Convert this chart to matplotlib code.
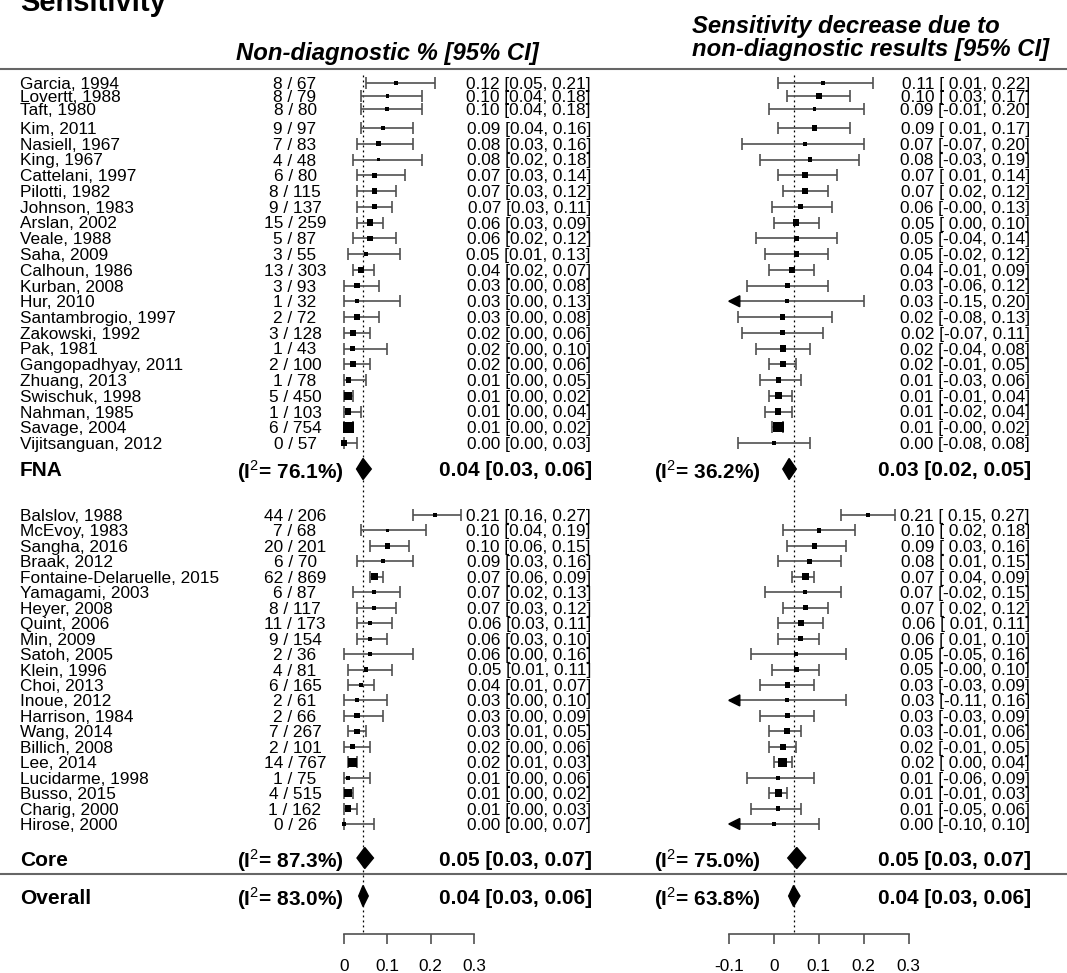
import numpy as np
import matplotlib.pyplot as plt
from matplotlib.patches import Polygon

plt.rcParams['font.family'] = ['Liberation Sans', 'DejaVu Sans']
plt.rcParams['mathtext.fontset'] = 'custom'
plt.rcParams['mathtext.rm'] = 'Liberation Sans'
plt.rcParams['axes.unicode_minus'] = False

# ---- FNA studies ----
fna_names = ['Garcia, 1994', 'Lovertt, 1988', 'Taft, 1980', 'Kim, 2011', 'Nasiell, 1967',
             'King, 1967', 'Cattelani, 1997', 'Pilotti, 1982', 'Johnson, 1983', 'Arslan, 2002',
             'Veale, 1988', 'Saha, 2009', 'Calhoun, 1986', 'Kurban, 2008', 'Hur, 2010',
             'Santambrogio, 1997', 'Zakowski, 1992', 'Pak, 1981', 'Gangopadhyay, 2011',
             'Zhuang, 2013', 'Swischuk, 1998', 'Nahman, 1985', 'Savage, 2004', 'Vijitsanguan, 2012']
fna_events = [8, 8, 8, 9, 7, 4, 6, 8, 9, 15, 5, 3, 13, 3, 1, 2, 3, 1, 2, 1, 5, 1, 6, 0]
fna_total = [67, 79, 80, 97, 83, 48, 80, 115, 137, 259, 87, 55, 303, 93, 32, 72, 128, 43,
             100, 78, 450, 103, 754, 57]
fna_nd = [0.12, 0.10, 0.10, 0.09, 0.08, 0.08, 0.07, 0.07, 0.07, 0.06, 0.06, 0.05, 0.04,
          0.03, 0.03, 0.03, 0.02, 0.02, 0.02, 0.01, 0.01, 0.01, 0.01, 0.00]
fna_nd_lo = [0.05, 0.04, 0.04, 0.04, 0.03, 0.02, 0.03, 0.03, 0.03, 0.03, 0.02, 0.01, 0.02,
             0.00, 0.00, 0.00, 0.00, 0.00, 0.00, 0.00, 0.00, 0.00, 0.00, 0.00]
fna_nd_hi = [0.21, 0.18, 0.18, 0.16, 0.16, 0.18, 0.14, 0.12, 0.11, 0.09, 0.12, 0.13, 0.07,
             0.08, 0.13, 0.08, 0.06, 0.10, 0.06, 0.05, 0.02, 0.04, 0.02, 0.03]
fna_sd = [0.11, 0.10, 0.09, 0.09, 0.07, 0.08, 0.07, 0.07, 0.06, 0.05, 0.05, 0.05, 0.04,
          0.03, 0.03, 0.02, 0.02, 0.02, 0.02, 0.01, 0.01, 0.01, 0.01, 0.00]
fna_sd_lo = [0.01, 0.03, -0.01, 0.01, -0.07, -0.03, 0.01, 0.02, -0.004, 0.00, -0.04, -0.02,
             -0.01, -0.06, -0.15, -0.08, -0.07, -0.04, -0.01, -0.03, -0.01, -0.02, -0.004, -0.08]
fna_sd_hi = [0.22, 0.17, 0.20, 0.17, 0.20, 0.19, 0.14, 0.12, 0.13, 0.10, 0.14, 0.12, 0.09,
             0.12, 0.20, 0.13, 0.11, 0.08, 0.05, 0.06, 0.04, 0.04, 0.02, 0.08]
# relative study weights
fna_wt_nd = [4, 3, 4, 3, 5, 3, 5, 5, 5, 6, 5, 4, 6, 5, 4, 5, 6, 5, 6, 5, 8, 6, 11, 6]
fna_wt_sd = [4, 6, 3, 5, 4, 4, 6, 6, 5, 6, 5, 5, 6, 5, 4, 5, 5, 6, 6, 5, 7, 6, 10, 4]

# ---- Core studies ----
core_names = ['Balslov, 1988', 'McEvoy, 1983', 'Sangha, 2016', 'Braak, 2012',
              'Fontaine-Delaruelle, 2015', 'Yamagami, 2003', 'Heyer, 2008', 'Quint, 2006',
              'Min, 2009', 'Satoh, 2005', 'Klein, 1996', 'Choi, 2013', 'Inoue, 2012',
              'Harrison, 1984', 'Wang, 2014', 'Billich, 2008', 'Lee, 2014', 'Lucidarme, 1998',
              'Busso, 2015', 'Charig, 2000', 'Hirose, 2000']
core_events = [44, 7, 20, 6, 62, 6, 8, 11, 9, 2, 4, 6, 2, 2, 7, 2, 14, 1, 4, 1, 0]
core_total = [206, 68, 201, 70, 869, 87, 117, 173, 154, 36, 81, 165, 61, 66, 267, 101, 767,
              75, 515, 162, 26]
core_nd = [0.21, 0.10, 0.10, 0.09, 0.07, 0.07, 0.07, 0.06, 0.06, 0.06, 0.05, 0.04, 0.03,
           0.03, 0.03, 0.02, 0.02, 0.01, 0.01, 0.01, 0.00]
core_nd_lo = [0.16, 0.04, 0.06, 0.03, 0.06, 0.02, 0.03, 0.03, 0.03, 0.00, 0.01, 0.01, 0.00,
              0.00, 0.01, 0.00, 0.01, 0.00, 0.00, 0.00, 0.00]
core_nd_hi = [0.27, 0.19, 0.15, 0.16, 0.09, 0.13, 0.12, 0.11, 0.10, 0.16, 0.11, 0.07, 0.10,
              0.09, 0.05, 0.06, 0.03, 0.06, 0.02, 0.03, 0.07]
core_sd = [0.21, 0.10, 0.09, 0.08, 0.07, 0.07, 0.07, 0.06, 0.06, 0.05, 0.05, 0.03, 0.03,
           0.03, 0.03, 0.02, 0.02, 0.01, 0.01, 0.01, 0.00]
core_sd_lo = [0.15, 0.02, 0.03, 0.01, 0.04, -0.02, 0.02, 0.01, 0.01, -0.05, -0.004, -0.03,
              -0.11, -0.03, -0.01, -0.01, 0.00, -0.06, -0.01, -0.05, -0.104]
core_sd_hi = [0.27, 0.18, 0.16, 0.15, 0.09, 0.15, 0.12, 0.11, 0.10, 0.16, 0.10, 0.09, 0.16,
              0.09, 0.06, 0.05, 0.04, 0.09, 0.03, 0.06, 0.10]
core_wt_nd = [4, 3, 5, 4, 7, 4, 4, 4, 4, 3, 4, 4, 4, 5, 5, 5, 9, 4, 8, 6, 4]
core_wt_sd = [4, 4, 5, 5, 7, 4, 5, 6, 5, 4, 5, 5, 4, 5, 6, 6, 9, 4, 7, 4, 4]

# ---- pooled estimates: FNA, Core, Overall ----
sum_labels = ['FNA', 'Core', 'Overall']
sum_i2_nd = [76.1, 87.3, 83.0]
sum_i2_sd = [36.2, 75.0, 63.8]
sum_nd = [0.044, 0.048, 0.044]
sum_nd_lo = [0.029, 0.030, 0.034]
sum_nd_hi = [0.063, 0.068, 0.056]
sum_sd = [0.034, 0.051, 0.044]
sum_sd_lo = [0.020, 0.031, 0.033]
sum_sd_hi = [0.050, 0.071, 0.058]

ticks_nd = [0, 0.1, 0.2, 0.3]
ticklabels_nd = ['0', '0.1', '0.2', '0.3']
ticks_sd = [-0.1, 0, 0.1, 0.2, 0.3]
ticklabels_sd = ['-0.1', '0', '0.1', '0.2', '0.3']

# ---- layout (pixels) ----
W, H = 1067, 973
y_fna = np.r_[83 + 13 * np.arange(3), 128 + 15.75 * np.arange(len(fna_names) - 3)]
y_core = 515 + 15.45 * np.arange(len(core_names))
y_sum = [469, 858, 896]
y_axis = 934
FS = 12.4
FSB = 15
GRAY = '#505050'

fig = plt.figure(figsize=(W / 100, H / 100), dpi=100)
axT = fig.add_axes([0, 0, 1, 1])
axT.set_xlim(0, W)
axT.set_ylim(H, 0)
axT.axis('off')


def forest_axes(x0, unit):
    ax = fig.add_axes([0, 0, 1, 1])
    ax.set_facecolor('none')
    ax.set_xlim(-x0 / unit, (W - x0) / unit)
    ax.set_ylim(H, 0)
    for s in ['top', 'left', 'right']:
        ax.spines[s].set_visible(False)
    ax.set_yticks([])
    return ax


axL = forest_axes(344, 433)
axR = forest_axes(773.8, 450)
px_unit = {axL: 433, axR: 450}


def draw_panel(ax, ys, est, lo, hi, wt, xmin):
    est, lo, hi, wt = map(np.asarray, (est, lo, hi, wt))
    lo_draw = np.maximum(lo, xmin)
    ax.hlines(ys, lo_draw, hi, color=GRAY, lw=1.2, zorder=2)
    keep = lo >= xmin - 1e-9
    ax.vlines(lo[keep], ys[keep] - 6, ys[keep] + 6, color=GRAY, lw=1.2, zorder=2)
    ax.vlines(hi, ys - 6, ys + 6, color=GRAY, lw=1.2, zorder=2)
    ax.scatter(est, ys, s=(wt * 0.75) ** 2, marker='s', color='black', linewidths=0, zorder=3)
    aw = 11 / px_unit[ax]
    for y in ys[~keep]:
        ax.add_patch(Polygon([(xmin, y), (xmin + aw, y - 5.5), (xmin + aw, y + 5.5)],
                             closed=True, color='black', zorder=3))


def ci_str(e, l, h, lw=4):
    return f"{e:.2f} [{l:{lw}.2f}, {h:.2f}]"


for ax, groups, sums, xmin in [
        (axL, [(y_fna, fna_nd, fna_nd_lo, fna_nd_hi, fna_wt_nd),
               (y_core, core_nd, core_nd_lo, core_nd_hi, core_wt_nd)],
         (sum_nd, sum_nd_lo, sum_nd_hi), 0.0),
        (axR, [(y_fna, fna_sd, fna_sd_lo, fna_sd_hi, fna_wt_sd),
               (y_core, core_sd, core_sd_lo, core_sd_hi, core_wt_sd)],
         (sum_sd, sum_sd_lo, sum_sd_hi), -0.1)]:
    for g in groups:
        draw_panel(ax, *g, xmin)
    for y, e, l, h in zip(y_sum, *sums):
        ax.add_patch(Polygon([(l, y), (e, y - 10.5), (h, y), (e, y + 10.5)],
                             closed=True, color='black', zorder=3))
    ax.vlines(sums[0][2], y_fna[0] - 8, y_axis, color='black', lw=0.9,
              linestyles=(0, (1.5, 2.5)), zorder=1)

for ax, ticks, labels in [(axL, ticks_nd, ticklabels_nd), (axR, ticks_sd, ticklabels_sd)]:
    ax.spines['bottom'].set_position(('data', y_axis))
    ax.spines['bottom'].set_bounds(ticks[0], ticks[-1])
    ax.spines['bottom'].set_color(GRAY)
    ax.spines['bottom'].set_linewidth(1.2)
    ax.set_xticks(ticks)
    ax.set_xticklabels(labels)
    ax.tick_params(axis='x', direction='out', length=7.2, width=1.2, color=GRAY,
                   pad=10.5, labelsize=FS)

# ---- text columns ----
axT.text(20, 11, 'Sensitivity', fontsize=21, fontweight='bold', va='baseline')
axT.text(387, 51, 'Non-diagnostic % [95% CI]', fontsize=17.2, fontweight='bold',
         style='italic', ha='center', va='center_baseline')
axT.text(692, 24, 'Sensitivity decrease due to', fontsize=17.2, fontweight='bold',
         style='italic', ha='left', va='center_baseline')
axT.text(692, 47, 'non-diagnostic results [95% CI]', fontsize=17.2, fontweight='bold',
         style='italic', ha='left', va='center_baseline')
axT.axhline(69, color='#666666', lw=1.5)
axT.axhline(874, color='#666666', lw=1.5)

for ys, names, ev, tot, nd, ndl, ndh, sd, sdl, sdh in [
        (y_fna, fna_names, fna_events, fna_total, fna_nd, fna_nd_lo, fna_nd_hi,
         fna_sd, fna_sd_lo, fna_sd_hi),
        (y_core, core_names, core_events, core_total, core_nd, core_nd_lo, core_nd_hi,
         core_sd, core_sd_lo, core_sd_hi)]:
    for i, y in enumerate(ys):
        axT.text(20, y, names[i], fontsize=FS, va='center_baseline')
        axT.text(295, y, f"{ev[i]} / {tot[i]}", fontsize=FS, ha='center', va='center_baseline')
        axT.text(591, y, ci_str(nd[i], ndl[i], ndh[i]), fontsize=FS, ha='right',
                 va='center_baseline')
        axT.text(1030, y, ci_str(sd[i], sdl[i], sdh[i], 5), fontsize=FS, ha='right',
                 va='center_baseline')

for i, y in enumerate(y_sum):
    axT.text(20, y, sum_labels[i], fontsize=FSB, fontweight='bold', va='center_baseline')
    axT.text(344, y, f"(I$^2$= {sum_i2_nd[i]:.1f}%)", fontsize=FSB, fontweight='bold',
             ha='right', va='center_baseline')
    axT.text(761, y, f"(I$^2$= {sum_i2_sd[i]:.1f}%)", fontsize=FSB, fontweight='bold',
             ha='right', va='center_baseline')
    axT.text(592, y, ci_str(sum_nd[i], sum_nd_lo[i], sum_nd_hi[i]), fontsize=FSB,
             fontweight='bold', ha='right', va='center_baseline')
    axT.text(1031, y, ci_str(sum_sd[i], sum_sd_lo[i], sum_sd_hi[i]), fontsize=FSB,
             fontweight='bold', ha='right', va='center_baseline')

fig.savefig('out.png', dpi=100)
